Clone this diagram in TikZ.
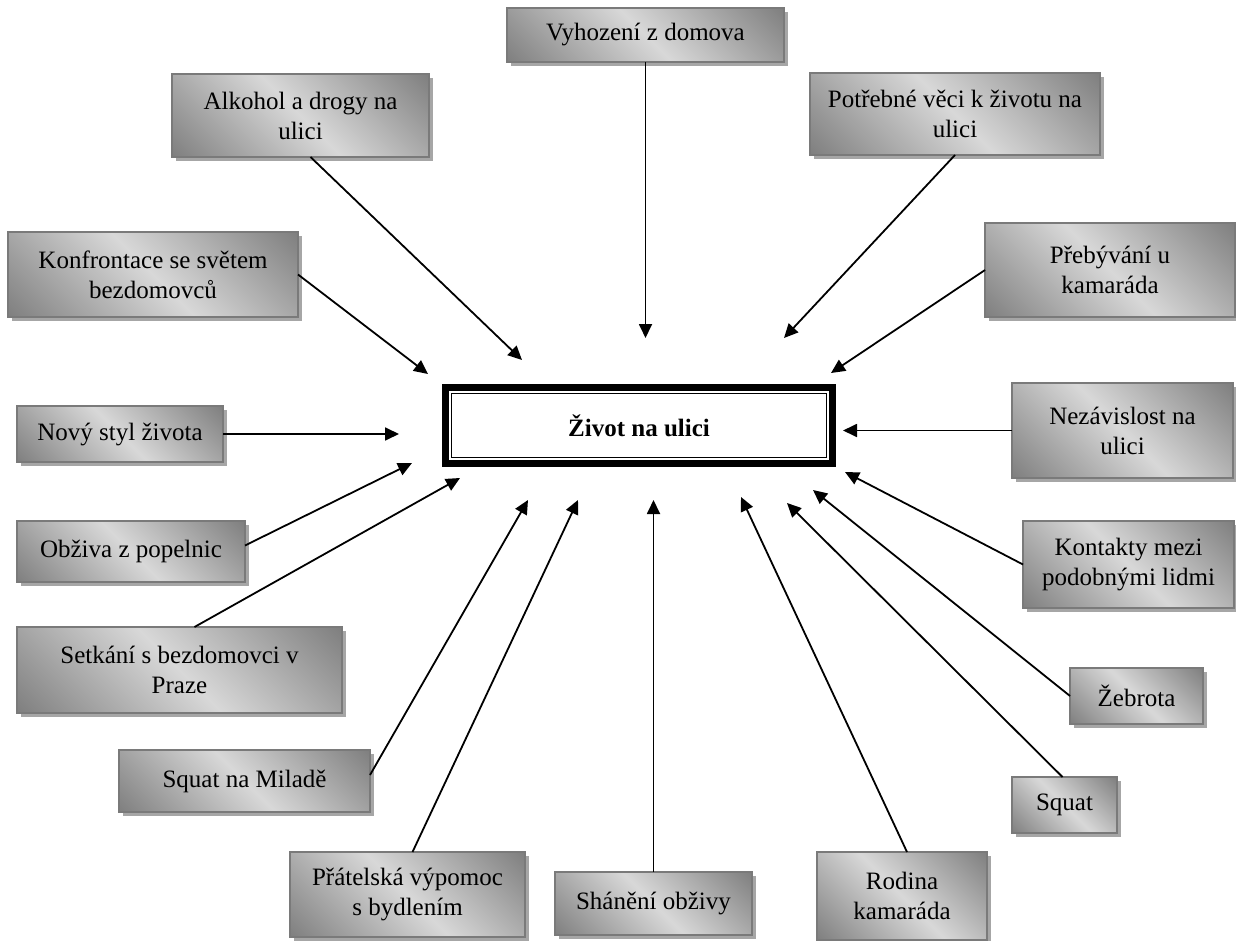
\documentclass[tikz,border=0pt]{standalone}
\usepackage{fontspec}
\setmainfont{Liberation Serif}
\usetikzlibrary{arrows.meta,shadows,calc}
\definecolor{shdk}{HTML}{5A5A5A}
\definecolor{shlt}{HTML}{D8D8D8}
\definecolor{bordergray}{HTML}{7A7A7A}
\definecolor{shadowgray}{HTML}{A6A6A6}
\pgfdeclarehorizontalshading{boxshade}{100bp}{color(0bp)=(shdk); color(50bp)=(shlt); color(100bp)=(shdk)}
\newcommand\boxfont{\fontsize{12.5}{15}\selectfont}
\tikzset{
  box/.style={draw=bordergray, line width=0.6pt, shading=boxshade, shading angle=45,
    drop shadow={shadow xshift=2pt, shadow yshift=-2pt, fill=shadowgray, opacity=1},
    inner sep=0pt, outer sep=0pt, align=center, font=\boxfont},
  arr/.style={-{Triangle[length=7pt,width=6.5pt]}, line width=0.9pt, black},
  centre/.style={draw=black, line width=3.5pt, fill=white, inner sep=0pt, outer sep=0pt,
    minimum width=193.5pt, minimum height=38pt, font=\boxfont\bfseries}
}
\begin{document}
\begin{tikzpicture}[x=0.5pt,y=-0.5pt]
\useasboundingbox (0,0) rectangle (1236,941);
% centre
\node[centre] (ctr) at (639,425.5) {Život na ulici};
\draw[line width=0.6pt] ($(ctr.north west)+(6,6)$) rectangle ($(ctr.south east)+(-6,-6)$);
% boxes
\node[box, minimum width=138.5pt, minimum height=27pt] (vyh) at (645.5,35) {Vyhození z domova};
\node[box, minimum width=128.5pt, minimum height=41.5pt] (alk) at (300.5,115.5) {Alkohol a drogy na\\ulici};
\node[box, minimum width=145pt, minimum height=41pt] (pot) at (955,114) {Potřebné věci k životu na\\ulici};
\node[box, minimum width=145pt, minimum height=42.5pt] (konf) at (153,274.5) {Konfrontace se světem\\bezdomovců};
\node[box, minimum width=125pt, minimum height=47pt] (preb) at (1110,270) {Přebývání u\\kamaráda};
\node[box, minimum width=103pt, minimum height=28pt] (novy) at (120,434) {Nový styl života};
\node[box, minimum width=110.5pt, minimum height=47.5pt] (nez) at (1122.5,430.5) {Nezávislost na\\ulici};
\node[box, minimum width=114pt, minimum height=30.5pt] (obz) at (131,551.5) {Obživa z popelnic};
\node[box, minimum width=105.5pt, minimum height=43.5pt] (kont) at (1128.5,564.5) {Kontakty mezi\\podobnými lidmi};
\node[box, minimum width=162.5pt, minimum height=43pt] (setk) at (179.5,670) {Setkání s bezdomovci v\\Praze};
\node[box, minimum width=66.5pt, minimum height=28pt] (zeb) at (1136.5,696) {Žebrota};
\node[box, minimum width=125.5pt, minimum height=31pt] (squatm) at (244.5,781) {Squat na Miladě};
\node[box, minimum width=52.5pt, minimum height=28pt] (squat) at (1064.5,805) {Squat};
\node[box, minimum width=117.5pt, minimum height=42.5pt] (prat) at (407.5,894.5) {Přátelská výpomoc\\s bydlením};
\node[box, minimum width=98.5pt, minimum height=31.5pt] (shan) at (653.5,903.5) {Shánění obživy};
\node[box, minimum width=85pt, minimum height=44pt] (rod) at (902,896) {Rodina\\kamaráda};
% arrow tips
\coordinate (tvyh) at (645.5,338);
\coordinate (talk) at (522,360);
\coordinate (tpot) at (784,338);
\coordinate (tkonf) at (428,374);
\coordinate (tpreb) at (831,373);
\coordinate (tnovy) at (399,434);
\coordinate (tnez) at (843,430.5);
\coordinate (tobz) at (412,463);
\coordinate (tkont) at (845,472);
\coordinate (tsetk) at (460,478);
\coordinate (tzeb) at (813,490);
\coordinate (tsquatm) at (528,500);
\coordinate (tsquat) at (787,503);
\coordinate (tprat) at (578,500);
\coordinate (tshan) at (653.5,500);
\coordinate (trod) at (741,497);
% connectors
\draw[arr] (vyh.south) -- (tvyh);
\draw[arr] ($(alk.south)+(10,0)$) -- (talk);
\draw[arr] (pot.south) -- (tpot);
\draw[arr] (konf.east) -- (tkonf);
\draw[arr] (preb.west) -- (tpreb);
\draw[arr] (novy.east) -- (tnovy);
\draw[arr] (nez.west) -- (tnez);
\draw[arr] ($(obz.east)+(0,-6)$) -- (tobz);
\draw[arr] (kont.west) -- (tkont);
\draw[arr] ($(setk.north)+(15,0)$) -- (tsetk);
\draw[arr] (zeb.west) -- (tzeb);
\draw[arr] ($(squatm.east)+(0,-6)$) -- (tsquatm);
\draw[arr] ($(squat.north)+(-2,0)$) -- (tsquat);
\draw[arr] ($(prat.north)+(5,0)$) -- (tprat);
\draw[arr] (shan.north) -- (tshan);
\draw[arr] ($(rod.north)+(5,0)$) -- (trod);
\end{tikzpicture}
\end{document}
